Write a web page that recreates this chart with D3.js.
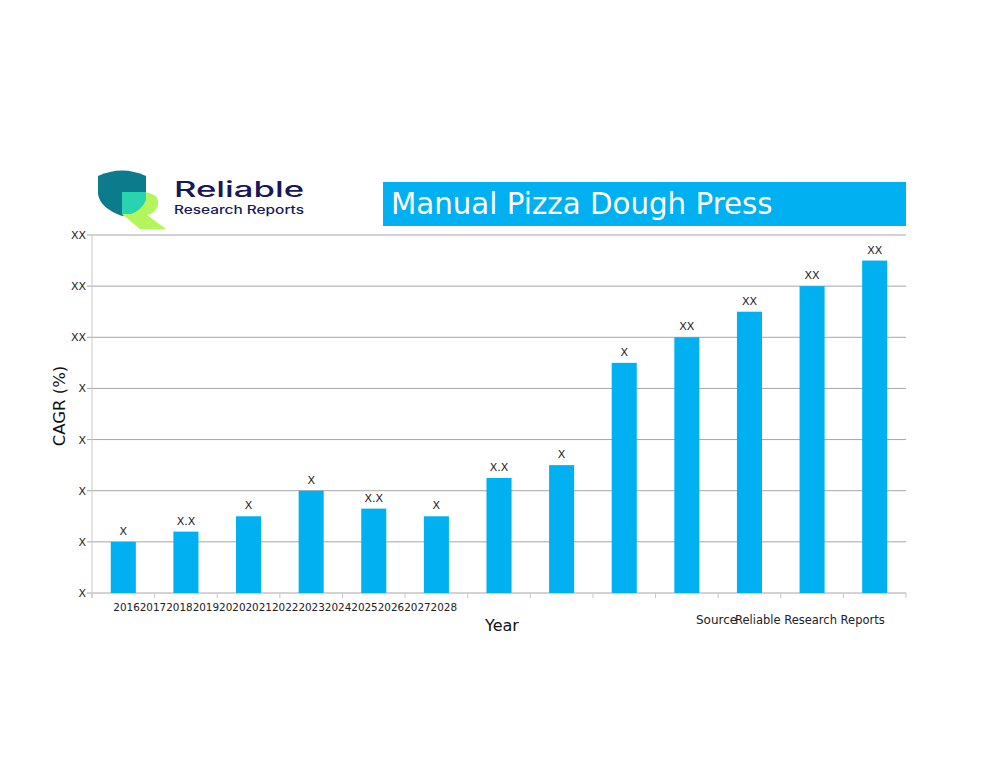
<!DOCTYPE html>
<html>
<head>
<meta charset="utf-8">
<script src="https://cdn.jsdelivr.net/npm/d3@7"></script>
<style>
  body { margin: 0; background: #fff; }
  svg { font-family: "DejaVu Sans", sans-serif; }
</style>
</head>
<body>
<div id="viz"></div>
<script>
// Chart data
const years = ["2016", "2017", "2018", "2019", "2020", "2021", "2022",
               "2023", "2024", "2025", "2026", "2027", "2028"];
const values = [1, 1.2, 1.5, 2, 1.65, 1.5, 2.25, 2.5, 4.5, 5, 5.5, 6, 6.5];
const barLabels = ["X", "X.X", "X", "X", "X.X", "X", "X.X", "X", "X", "XX", "XX", "XX", "XX"];
const yTicks = [0, 1, 2, 3, 4, 5, 6, 7];
const yTickLabels = ["X", "X", "X", "X", "X", "XX", "XX", "XX"];

const width = 990;
const height = 765;
const margin = {top: 235, right: 84, bottom: 172, left: 92};

const svg = d3.select("#viz").append("svg")
    .attr("width", width)
    .attr("height", height);

const x = d3.scaleBand()
    .domain(years)
    .range([margin.left, width - margin.right])
    .paddingInner(0.6)
    .paddingOuter(0.3);

const y = d3.scaleLinear()
    .domain([0, 7])
    .range([height - margin.bottom, margin.top]);

// Gridlines
svg.append("g")
    .selectAll("line")
    .data(yTicks)
    .enter()
    .append("line")
    .attr("x1", margin.left - 5)
    .attr("x2", width - margin.right)
    .attr("y1", d => y(d))
    .attr("y2", d => y(d))
    .attr("stroke", "#a6a6a6")
    .attr("stroke-width", 1);

// Y axis line
svg.append("line")
    .attr("x1", margin.left).attr("x2", margin.left)
    .attr("y1", y(7)).attr("y2", y(0) + 5)
    .attr("stroke", "#c8c8c8");

// Y tick labels
svg.append("g")
    .selectAll("text")
    .data(yTicks)
    .enter()
    .append("text")
    .attr("x", margin.left - 6)
    .attr("y", d => y(d) + 4)
    .attr("text-anchor", "end")
    .attr("font-size", "11px")
    .attr("fill", "#222")
    .text((d, i) => yTickLabels[i]);

// X axis ticks at band edges
const edges = d3.range(years.length + 1).map(i => margin.left + i * (width - margin.right - margin.left) / years.length);
svg.append("g")
    .selectAll("line")
    .data(edges)
    .enter()
    .append("line")
    .attr("x1", d => d).attr("x2", d => d)
    .attr("y1", y(0)).attr("y2", y(0) + 5)
    .attr("stroke", "#c8c8c8");

// Bars
svg.append("g")
    .selectAll("rect")
    .data(values)
    .enter()
    .append("rect")
    .attr("x", (d, i) => x(years[i]))
    .attr("y", d => y(d))
    .attr("width", x.bandwidth())
    .attr("height", d => y(0) - y(d))
    .attr("fill", "#00b0f0");

// Bar labels
svg.append("g")
    .selectAll("text")
    .data(values)
    .enter()
    .append("text")
    .attr("x", (d, i) => x(years[i]) + x.bandwidth() / 2)
    .attr("y", d => y(d) - 7)
    .attr("text-anchor", "middle")
    .attr("font-size", "11px")
    .attr("fill", "#222")
    .text((d, i) => barLabels[i]);

// Year labels (crammed together like the original)
svg.append("text")
    .attr("x", x(years[0]) + x.bandwidth() / 2 - 10)
    .attr("y", 611)
    .attr("font-size", "10.4px")
    .attr("fill", "#222")
    .text(years.join(""));

// Axis titles
svg.append("text")
    .attr("x", 502)
    .attr("y", 631)
    .attr("text-anchor", "middle")
    .attr("font-size", "16px")
    .attr("fill", "#111")
    .text("Year");

svg.append("text")
    .attr("transform", "translate(65,406) rotate(-90)")
    .attr("text-anchor", "middle")
    .attr("font-size", "16.5px")
    .attr("fill", "#111")
    .text("CAGR (%)");

// Source
svg.append("text")
    .attr("x", 696).attr("y", 624)
    .attr("font-size", "12px").attr("fill", "#222")
    .text("Source");
svg.append("text")
    .attr("x", 735).attr("y", 624)
    .attr("font-size", "11.5px").attr("fill", "#222")
    .text("Reliable Research Reports");

// Title box
svg.append("rect")
    .attr("x", 383).attr("y", 182)
    .attr("width", 523).attr("height", 44)
    .attr("fill", "#00b0f0");
svg.append("text")
    .attr("x", 391).attr("y", 214)
    .attr("font-size", "29.3px")
    .attr("fill", "#fff")
    .text("Manual Pizza Dough Press");

// Logo
const logo = svg.append("g");
logo.append("path")
    .attr("d", "M98,176 Q122,165 146,176 L146,196 Q144,210 122,216 Q100,208 98,194 Z")
    .attr("fill", "#0c7b8c");
logo.append("path")
    .attr("d", "M122,192 L144,192 Q160,194 158,205 Q155,214 147,215 L166,229 L140,229 L122,214 Z")
    .attr("fill", "#b3f55b");
logo.append("path")
    .attr("d", "M122,192 L146,192 L146,200 Q142,210 131,214 L122,214 Z")
    .attr("fill", "#28d3b0");
logo.append("text")
    .attr("x", 174).attr("y", 197)
    .attr("font-family", "Inter, 'Open Sans', sans-serif")
    .attr("font-size", "21px").attr("font-weight", 500)
    .attr("textLength", 130).attr("lengthAdjust", "spacingAndGlyphs")
    .attr("fill", "#16185a")
    .text("Reliable");
logo.append("text")
    .attr("x", 174).attr("y", 214)
    .attr("font-family", "Inter, 'Open Sans', sans-serif")
    .attr("font-size", "11.5px").attr("font-weight", 500)
    .attr("textLength", 130).attr("lengthAdjust", "spacingAndGlyphs")
    .attr("fill", "#16185a")
    .text("Research Reports");
</script>
</body>
</html>
